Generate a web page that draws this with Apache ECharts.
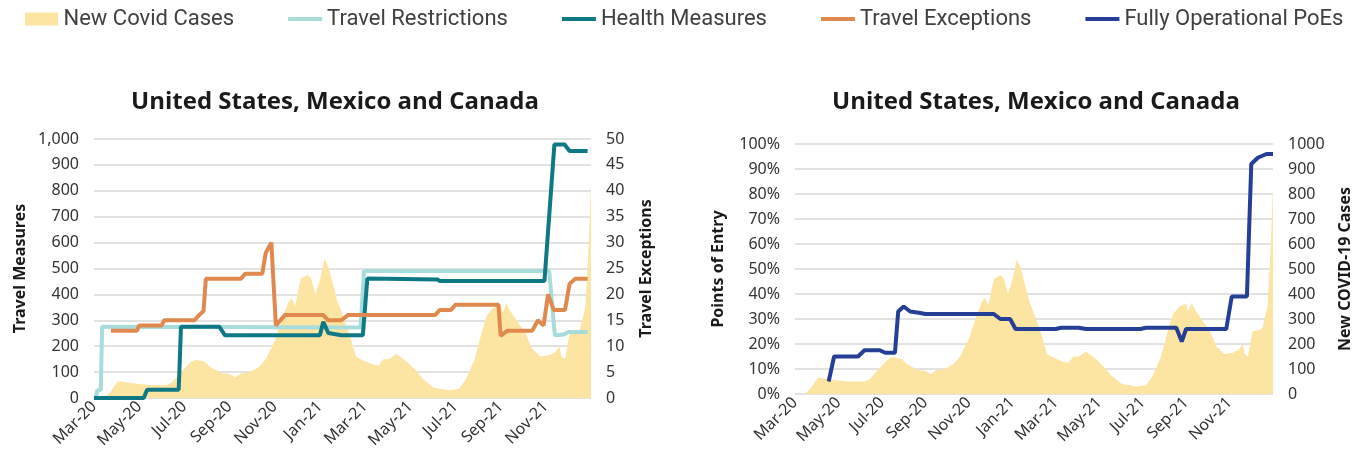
<!DOCTYPE html>
<html lang="en">
<head>
<meta charset="UTF-8">
<title>Travel measures and points of entry</title>
<script src="https://cdn.jsdelivr.net/npm/echarts@6/dist/echarts.min.js"></script>
<style>
  body { margin: 0; background: #fff; }
  #main { width: 1364px; height: 461px; }
</style>
</head>
<body>
<div id="main"></div>
<script>
// x values are months since 1 Mar 2020
var monthLabels = ['Mar-20', 'May-20', 'Jul-20', 'Sep-20', 'Nov-20', 'Jan-21',
  'Mar-21', 'May-21', 'Jul-21', 'Sep-21', 'Nov-21'];

var covidCases = [[0.45, 0], [0.7, 20], [1.05, 65], [1.5, 60], [1.9, 55], [2.45, 50], [3.2, 50],
  [3.45, 60], [3.85, 100], [4.3, 140], [4.5, 148], [4.9, 140], [5.15, 120], [5.35, 110],
  [5.7, 95], [6.0, 93], [6.25, 80], [6.5, 95], [6.9, 100], [7.3, 120], [7.6, 150], [8.0, 220],
  [8.3, 300], [8.6, 370], [8.75, 385], [8.9, 355], [9.15, 460], [9.45, 475], [9.6, 465],
  [9.8, 400], [10.05, 470], [10.2, 540], [10.4, 500], [10.75, 380], [11.3, 250], [11.6, 160],
  [11.8, 150], [12.3, 130], [12.6, 125], [12.8, 150], [13.05, 150], [13.4, 170], [13.85, 140],
  [14.2, 110], [14.6, 70], [15.05, 40], [15.4, 35], [15.7, 30], [16.15, 35], [16.45, 70],
  [16.85, 150], [17.15, 250], [17.4, 320], [17.7, 350], [18.0, 360], [18.1, 330], [18.25, 365],
  [18.4, 340], [18.7, 300], [19.1, 250], [19.4, 190], [19.75, 160], [20.15, 165], [20.45, 180],
  [20.6, 200], [20.7, 160], [20.85, 150], [21.05, 250], [21.5, 260], [21.75, 350], [21.9, 600],
  [22.0, 830]];

var travelRestrictions = [[0.07, 0], [0.15, 30], [0.3, 30], [0.36, 275], [11.8, 272],
  [11.95, 490], [20.15, 490], [20.4, 242], [20.8, 245], [21.0, 255], [21.85, 255]];

var healthMeasures = [[0, 0], [2.2, 0], [2.35, 32], [3.75, 32], [3.85, 275], [5.55, 275],
  [5.8, 242], [10.0, 242], [10.15, 294], [10.37, 251], [10.95, 242], [11.9, 242],
  [12.1, 461], [15.2, 458], [15.3, 452], [19.94, 452], [20.38, 979], [20.83, 979],
  [21.05, 954], [21.85, 954]];

var travelExceptions = [[0.75, 13], [1.9, 13], [2.0, 14], [3.0, 14], [3.1, 15], [4.45, 15],
  [4.65, 16], [4.85, 16.8], [4.95, 23], [6.5, 23], [6.7, 24], [7.45, 24], [7.6, 28],
  [7.85, 30], [8.05, 14], [8.45, 16], [10.15, 16], [10.37, 15], [10.95, 15], [11.24, 16],
  [15.1, 16], [15.3, 17], [15.8, 17], [16.0, 18], [17.9, 18], [18.0, 12], [18.3, 13],
  [19.4, 13], [19.65, 15], [19.9, 14], [20.1, 20], [20.35, 17], [20.85, 17], [21.05, 22],
  [21.3, 23], [21.85, 23]];

var operationalPoEs = [[1.55, 5], [1.8, 15], [2.9, 15], [3.2, 17.5], [3.9, 17.5], [4.15, 16.5],
  [4.6, 16.5], [4.75, 33], [5.0, 35], [5.3, 33], [5.7, 32.5], [6.0, 32], [9.15, 32],
  [9.45, 30], [9.9, 30], [10.15, 26], [12.0, 26], [12.25, 26.5], [13.05, 26.5], [13.4, 26],
  [15.9, 26], [16.15, 26.5], [17.55, 26.5], [17.8, 21], [18.0, 26], [19.85, 26], [20.1, 39],
  [20.8, 39], [21.0, 92], [21.3, 94.5], [21.7, 96], [22.0, 96]];

var yellow = '#fce5a3', lightTeal = '#a7dcda', darkTeal = '#0e7885',
  orange = '#e0894e', navy = '#253f97';
var gridColor = '#d9d9d9';
var labelFont = 'Noto Sans';
// thin bar inside a 34x13 box, used as the legend mark of the line series
var lineIcon = 'path://M0,0 M34,13 M0,4.5 L34,4.5 L34,8.5 L0,8.5 Z';

function xAxisFor(gridIndex) {
  return {
    type: 'value', gridIndex: gridIndex, min: 0, max: 22, interval: 2,
    axisLine: { show: false }, axisTick: { show: false }, splitLine: { show: false },
    axisLabel: {
      rotate: 45, margin: 6, color: '#333', fontFamily: labelFont, fontSize: 16,
      showMaxLabel: false,
      formatter: function (v) { return monthLabels[Math.round(v / 2)] || ''; }
    }
  };
}

function yAxisFor(gridIndex, max, interval, name, nameGap, position, split, fmt) {
  return {
    type: 'value', gridIndex: gridIndex, min: 0, max: max, interval: interval,
    position: position, name: name, nameLocation: 'middle', nameGap: nameGap, nameRotate: 90,
    nameTextStyle: { fontFamily: labelFont, fontWeight: 'bold', fontSize: 16, color: '#1a1a1a' },
    axisLine: { show: false }, axisTick: { show: false },
    splitLine: { show: split, lineStyle: { color: gridColor, width: 1.5 } },
    axisLabel: { color: '#333', fontFamily: labelFont, fontSize: 16, margin: 15, formatter: fmt }
  };
}

function lineSeries(name, data, color, xi, yi) {
  return {
    name: name, type: 'line', data: data, xAxisIndex: xi, yAxisIndex: yi,
    symbol: 'none', color: color, lineStyle: { width: 4, color: color }
  };
}

function covidSeries(xi, yi) {
  return {
    name: 'New Covid Cases', type: 'line', data: covidCases, xAxisIndex: xi, yAxisIndex: yi,
    symbol: 'none', color: yellow, lineStyle: { width: 0 },
    areaStyle: { color: yellow, opacity: 1 }
  };
}

var chart = echarts.init(document.getElementById('main'));

var titleStyle = { fontFamily: 'Open Sans', fontWeight: 'bold', fontSize: 24, color: '#1a1a1a' };

chart.setOption({
  animation: false,
  title: [
    { text: 'United States, Mexico and Canada', left: 330, top: 85, textAlign: 'center', textStyle: titleStyle },
    { text: 'United States, Mexico and Canada', left: 1031, top: 85, textAlign: 'center', textStyle: titleStyle }
  ],
  legend: {
    left: 20, top: 3, width: 1340, itemGap: 54, itemWidth: 34, itemHeight: 13,
    textStyle: { fontFamily: 'Roboto', fontSize: 22, color: '#404040' },
    data: [
      { name: 'New Covid Cases', icon: 'path://M0,0 L33,0 L33,13 L0,13 Z' },
      { name: 'Travel Restrictions', icon: lineIcon },
      { name: 'Health Measures', icon: lineIcon },
      { name: 'Travel Exceptions', icon: lineIcon },
      { name: 'Fully Operational PoEs', icon: lineIcon }
    ]
  },
  grid: [
    { left: 94, top: 139, width: 497, height: 259 },
    { left: 795, top: 144, width: 478, height: 250 }
  ],
  xAxis: [xAxisFor(0), xAxisFor(1)],
  yAxis: [
    yAxisFor(0, 1000, 100, 'Travel Measures', 66, 'left', true,
      function (v) { return v.toLocaleString('en-US'); }),
    yAxisFor(0, 50, 5, 'Travel Exceptions', 47, 'right', false, function (v) { return String(v); }),
    yAxisFor(1, 100, 10, 'Points of Entry', 69, 'left', true, function (v) { return v + '%'; }),
    yAxisFor(1, 1000, 100, 'New COVID-19 Cases', 64, 'right', false, function (v) { return String(v); })
  ],
  series: [
    covidSeries(0, 0),
    lineSeries('Travel Restrictions', travelRestrictions, lightTeal, 0, 0),
    lineSeries('Health Measures', healthMeasures, darkTeal, 0, 0),
    lineSeries('Travel Exceptions', travelExceptions, orange, 0, 1),
    covidSeries(1, 3),
    lineSeries('Fully Operational PoEs', operationalPoEs, navy, 1, 2)
  ]
});
</script>
</body>
</html>
